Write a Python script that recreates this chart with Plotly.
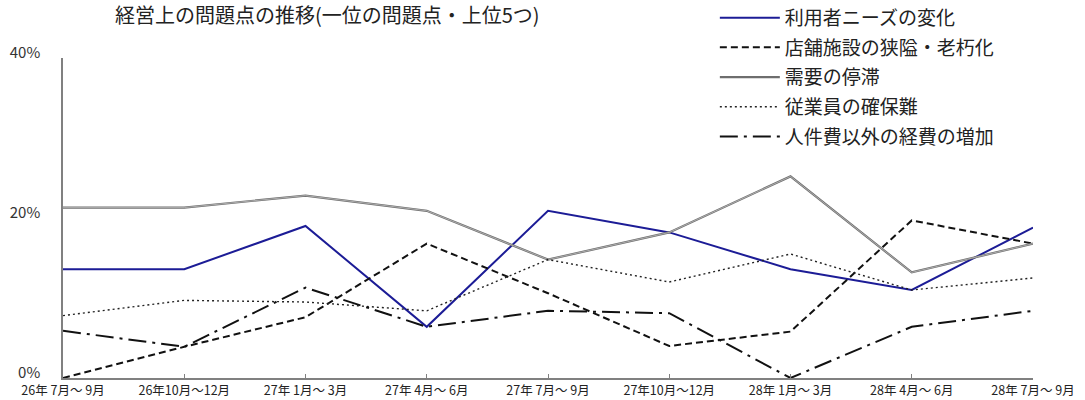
import plotly.graph_objects as go

# 四半期ラベル
periods = ["26年 7月～ 9月", "26年10月～12月", "27年 1月～ 3月", "27年 4月～ 6月",
           "27年 7月～ 9月", "27年10月～12月", "28年 1月～ 3月", "28年 4月～ 6月",
           "28年 7月～ 9月"]

# 各問題点の割合（%）
needs_change = [13.6, 13.6, 19.0, 6.4, 20.9, 18.2, 13.6, 11.0, 18.8]
store_aging = [0.0, 3.9, 7.6, 16.8, 10.6, 4.0, 5.8, 19.7, 16.8]
demand_stagnation = [21.3, 21.3, 22.8, 20.9, 14.8, 18.2, 25.2, 13.2, 16.8]
staff_shortage = [7.8, 9.7, 9.5, 8.4, 14.8, 12.0, 15.5, 11.0, 12.5]
other_costs = [5.9, 3.9, 11.3, 6.4, 8.4, 8.1, 0.0, 6.4, 8.4]

y_ticks = [0, 20, 40]
y_tick_text = ["0%", "20%", "40%"]

FONT = "Noto Sans CJK JP"
x = list(range(len(periods)))

fig = go.Figure()

fig.add_trace(go.Scatter(
    x=x, y=needs_change, mode="lines", name="利用者ニーズの変化",
    legendgroup="a", line=dict(color="#1c1c96", width=2),
))
fig.add_trace(go.Scatter(
    x=x, y=store_aging, mode="lines", name="店舗施設の狭隘・老朽化",
    legendgroup="b", line=dict(color="#111111", width=2, dash="7px,4px"),
))
fig.add_trace(go.Scatter(
    x=x, y=demand_stagnation, mode="lines", name="需要の停滞",
    legendgroup="c", line=dict(color="#6e6e6e", width=2.2),
))
# 二重線の内側
fig.add_trace(go.Scatter(
    x=x, y=demand_stagnation, mode="lines", showlegend=False,
    legendgroup="c", line=dict(color="#c8c8c8", width=0.7), hoverinfo="skip",
))
fig.add_trace(go.Scatter(
    x=x, y=staff_shortage, mode="lines", name="従業員の確保難",
    legendgroup="d", line=dict(color="#222222", width=1.4, dash="2px,3px"),
))
fig.add_trace(go.Scatter(
    x=x, y=other_costs, mode="lines", name="人件費以外の経費の増加",
    legendgroup="e", line=dict(color="#111111", width=2, dash="18px,6px,3px,6px"),
))

fig.update_layout(
    width=1085, height=400,
    margin=dict(l=63, r=52, t=58, b=22, autoexpand=False),
    paper_bgcolor="white", plot_bgcolor="white",
    font=dict(family=FONT, color="#222222"),
    showlegend=True,
    legend=dict(
        x=0.672, y=1.185, xanchor="left", yanchor="top",
        bgcolor="rgba(0,0,0,0)", font=dict(size=19, family=FONT, color="#222222"),
        itemwidth=60, traceorder="grouped", tracegroupgap=2,
    ),
    annotations=[dict(
        text="経営上の問題点の推移(一位の問題点・上位5つ)",
        xref="paper", yref="paper", x=0.052, y=1.1375,
        xanchor="left", yanchor="middle", showarrow=False,
        font=dict(size=20, family=FONT, color="#222222"),
    )],
)

fig.update_xaxes(
    range=[0, 8], tickvals=x, ticktext=periods, automargin=False,
    showline=True, linecolor="#808080", linewidth=1.5,
    ticks="inside", ticklen=4, tickcolor="#808080",
    showgrid=False, zeroline=False,
    tickfont=dict(size=12.5, family=FONT, color="#222222"),
    tickangle=0,
)
fig.update_yaxes(
    range=[0, 40], tickvals=y_ticks, ticktext=y_tick_text, automargin=False,
    showline=True, linecolor="#808080", linewidth=1.5,
    ticks="", showgrid=False, zeroline=False,
    ticklabelstandoff=18, ticklabelshift=-5,
    tickfont=dict(size=15, family=FONT, color="#333333"),
)

fig.write_html("out.html")
